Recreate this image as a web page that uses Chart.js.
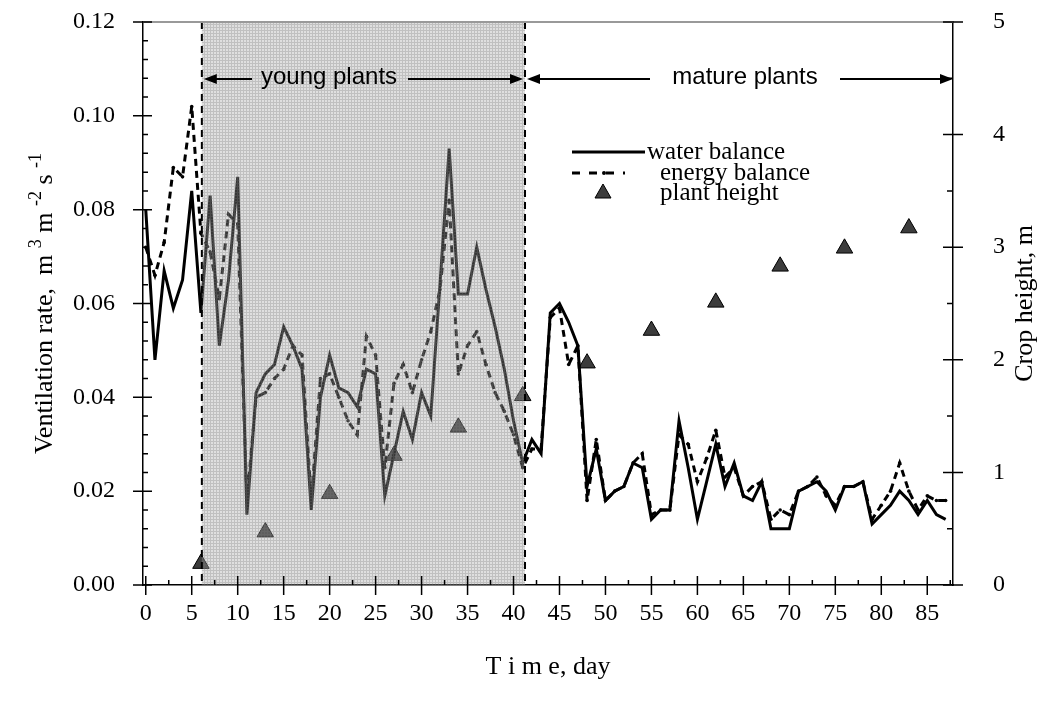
<!DOCTYPE html>
<html>
<head>
<meta charset="utf-8">
<script src="https://cdn.jsdelivr.net/npm/chart.js@4.4.1/dist/chart.umd.min.js"></script>
<style>
  html, body { margin: 0; padding: 0; background: #fff; }
  #wrap { width: 1046px; height: 706px; }
</style>
</head>
<body>
<div id="wrap"><canvas id="chart" width="1046" height="706"></canvas></div>
<script>
// ------------------------- Data -------------------------
// ventilation rate, m3 m-2 s-1, one value per day (day 0 .. 87)
const waterBalance = [
  0.080, 0.048, 0.067, 0.059, 0.065, 0.084, 0.058, 0.083, 0.051, 0.065,
  0.087, 0.015, 0.041, 0.045, 0.047, 0.055, 0.051, 0.046, 0.016, 0.040,
  0.049, 0.042, 0.041, 0.038, 0.046, 0.045, 0.019, 0.028, 0.037, 0.031,
  0.041, 0.036, 0.064, 0.093, 0.062, 0.062, 0.072, 0.063, 0.055, 0.046,
  0.035, 0.026, 0.031, 0.028, 0.058, 0.060, 0.056, 0.051, 0.021, 0.029,
  0.018, 0.020, 0.021, 0.026, 0.025, 0.014, 0.016, 0.016, 0.035, 0.025,
  0.014, 0.022, 0.030, 0.021, 0.026, 0.019, 0.018, 0.022, 0.012, 0.012,
  0.012, 0.020, 0.021, 0.022, 0.020, 0.016, 0.021, 0.021, 0.022, 0.013,
  0.015, 0.017, 0.020, 0.018, 0.015, 0.018, 0.015, 0.014
];
const energyBalance = [
  0.072, 0.066, 0.073, 0.089, 0.087, 0.102, 0.075, 0.071, 0.061, 0.079,
  0.077, 0.018, 0.040, 0.041, 0.044, 0.046, 0.051, 0.049, 0.018, 0.044,
  0.045, 0.040, 0.035, 0.032, 0.053, 0.049, 0.025, 0.043, 0.047, 0.041,
  0.048, 0.054, 0.063, 0.082, 0.045, 0.051, 0.054, 0.047, 0.041, 0.037,
  0.032, 0.025, 0.029, 0.029, 0.057, 0.059, 0.047, 0.051, 0.018, 0.031,
  0.018, 0.020, 0.021, 0.026, 0.028, 0.015, 0.016, 0.016, 0.032, 0.030,
  0.022, 0.027, 0.033, 0.023, 0.025, 0.019, 0.021, 0.022, 0.014, 0.016,
  0.015, 0.020, 0.021, 0.023, 0.019, 0.017, 0.021, 0.021, 0.022, 0.014,
  0.017, 0.020, 0.026, 0.020, 0.016, 0.019, 0.018, 0.018
];
const days = waterBalance.map((_, i) => i);

// crop height, m
const heightDays = [6, 13, 20, 27, 34, 41, 48, 55, 62, 69, 76, 83];
const plantHeight = [0.19, 0.47, 0.81, 1.15, 1.40, 1.68, 1.97, 2.26, 2.51, 2.83, 2.99, 3.17];

// axis ticks
const dayTicks = [0, 5, 10, 15, 20, 25, 30, 35, 40, 45, 50, 55, 60, 65, 70, 75, 80, 85];
const rateTicks = [0, 0.02, 0.04, 0.06, 0.08, 0.10, 0.12];
const heightTicks = [0, 1, 2, 3, 4, 5];

// growth stages (days)
const youngStart = 6.1;
const matureStart = 41.25;

const serif = '"Liberation Serif", "Times New Roman", serif';
const sans = '"Liberation Sans", Arial, sans-serif';

// ------------------------- Helpers -------------------------
function makeHatch(ctx) {
  const tile = document.createElement('canvas');
  tile.width = 3; tile.height = 3;
  const t = tile.getContext('2d');
  t.fillStyle = 'rgba(160,160,160,0.34)';
  t.fillRect(0, 0, 3, 3);
  t.fillStyle = 'rgba(120,120,120,0.30)';
  t.fillRect(0, 0, 3, 1);
  t.fillRect(0, 1, 1, 2);
  return ctx.createPattern(tile, 'repeat');
}

function arrow(ctx, x0, y, x1) {
  const dir = Math.sign(x1 - x0);
  ctx.beginPath();
  ctx.moveTo(x0, y);
  ctx.lineTo(x1 - dir * 10, y);
  ctx.stroke();
  ctx.beginPath();
  ctx.moveTo(x1, y);
  ctx.lineTo(x1 - dir * 13, y - 5);
  ctx.lineTo(x1 - dir * 13, y + 5);
  ctx.closePath();
  ctx.fill();
}

// text with superscripts, pieces = [[text, isSup], ...], centred on (0,0)
function supText(ctx, pieces, size) {
  const supSize = Math.round(size * 0.68);
  let total = 0;
  pieces.forEach(([s, sup]) => {
    ctx.font = `${sup ? supSize : size}px ${serif}`;
    total += ctx.measureText(s).width;
  });
  let x = -total / 2;
  ctx.textAlign = 'left';
  ctx.textBaseline = 'alphabetic';
  pieces.forEach(([s, sup]) => {
    ctx.font = `${sup ? supSize : size}px ${serif}`;
    ctx.fillText(s, x, sup ? size * 0.35 - size * 0.42 : size * 0.35);
    x += ctx.measureText(s).width;
  });
}

function noPad(s) {
  s.paddingTop = 0; s.paddingBottom = 0; s.paddingLeft = 0; s.paddingRight = 0;
}

// ------------------------- Decorations plugin -------------------------
const decorations = {
  id: 'decorations',
  afterDatasetsDraw(chart) {
    const { ctx, chartArea: a, scales: { x, y, y2 } } = chart;
    const xs = x.getPixelForValue(youngStart);
    const xe = x.getPixelForValue(matureStart);

    ctx.save();
    // shaded young-plant period (drawn over the lines, like the original)
    ctx.fillStyle = makeHatch(ctx);
    ctx.fillRect(xs, a.top, xe - xs, a.bottom - a.top);

    // stage boundaries
    ctx.strokeStyle = '#000';
    ctx.lineWidth = 2;
    ctx.setLineDash([7, 5]);
    [xs, xe].forEach(px => {
      ctx.beginPath();
      ctx.moveTo(px, a.top);
      ctx.lineTo(px, a.bottom);
      ctx.stroke();
    });
    ctx.setLineDash([]);

    // top frame line
    ctx.strokeStyle = '#999';
    ctx.lineWidth = 2;
    ctx.beginPath();
    ctx.moveTo(a.left, a.top);
    ctx.lineTo(a.right, a.top);
    ctx.stroke();

    // tick marks
    ctx.strokeStyle = '#000';
    ctx.lineWidth = 1.5;
    ctx.beginPath();
    for (let v = 0; v <= x.max; v += 2.5) {
      const px = x.getPixelForValue(v);
      const major = v % 5 === 0;
      ctx.moveTo(px, a.bottom - (major ? 9 : 5));
      ctx.lineTo(px, a.bottom + (major ? 10 : 0));
    }
    for (let i = 0; i <= 30; i++) {
      const py = y.getPixelForValue(i * 0.004);
      const major = i % 5 === 0;
      ctx.moveTo(a.left - (major ? 10 : 0), py);
      ctx.lineTo(a.left + (major ? 9 : 5), py);
    }
    for (let i = 0; i <= 10; i++) {
      const py = y2.getPixelForValue(i * 0.5);
      const major = i % 2 === 0;
      ctx.moveTo(a.right - (major ? 10 : 6), py);
      ctx.lineTo(a.right + (major ? 10 : 0), py);
    }
    ctx.stroke();

    // growth stage arrows
    const ay = 79;
    ctx.fillStyle = '#000';
    ctx.strokeStyle = '#000';
    ctx.lineWidth = 2;
    ctx.font = `24px ${sans}`;
    ctx.textAlign = 'center';
    ctx.textBaseline = 'middle';
    ctx.fillText('young plants', 329, ay - 2);
    arrow(ctx, 252, ay, xs + 2);
    arrow(ctx, 408, ay, xe - 2);
    ctx.fillText('mature plants', 745, ay - 2);
    arrow(ctx, 650, ay, xe + 2);
    arrow(ctx, 840, ay, a.right);

    // legend
    ctx.font = `25px ${serif}`;
    ctx.textAlign = 'left';
    ctx.textBaseline = 'middle';
    ctx.lineWidth = 3;
    ctx.beginPath();
    ctx.moveTo(572, 152); ctx.lineTo(645, 152);
    ctx.stroke();
    ctx.fillText('water balance', 647, 152);
    ctx.setLineDash([8, 9]);
    ctx.beginPath();
    ctx.moveTo(572, 173); ctx.lineTo(625, 173);
    ctx.stroke();
    ctx.setLineDash([]);
    ctx.beginPath();
    ctx.arc(604, 173, 2, 0, Math.PI * 2);
    ctx.fill();
    ctx.fillText('energy balance', 660, 173);
    ctx.fillStyle = '#3c3c3c';
    ctx.lineWidth = 1;
    ctx.beginPath();
    ctx.moveTo(603, 184); ctx.lineTo(611, 198); ctx.lineTo(595, 198);
    ctx.closePath();
    ctx.fill(); ctx.stroke();
    ctx.fillStyle = '#000';
    ctx.fillText('plant height', 660, 193);

    // axis titles
    ctx.save();
    ctx.translate(43, (a.top + a.bottom) / 2);
    ctx.rotate(-Math.PI / 2);
    supText(ctx, [
      ['Ventilation rate,  m ', false], ['3', true], [' m ', false],
      ['-2', true], [' s ', false], ['-1', true]
    ], 26);
    ctx.restore();

    ctx.save();
    ctx.translate(1025, (a.top + a.bottom) / 2);
    ctx.rotate(-Math.PI / 2);
    ctx.font = `26px ${serif}`;
    ctx.textAlign = 'center';
    ctx.textBaseline = 'middle';
    ctx.fillText('Crop height, m', 0, 0);
    ctx.restore();

    ctx.font = `26px ${serif}`;
    ctx.textAlign = 'center';
    ctx.textBaseline = 'middle';
    ctx.fillText('T i m e, day', (a.left + a.right) / 2, 667);
    ctx.restore();
  }
};

// ------------------------- Chart -------------------------
const tickFont = { family: serif, size: 24 };

new Chart(document.getElementById('chart').getContext('2d'), {
  type: 'line',
  data: {
    datasets: [
      {
        label: 'water balance',
        data: days.map((d, i) => ({ x: d, y: waterBalance[i] })),
        borderColor: '#000',
        borderWidth: 3,
        pointRadius: 0,
        tension: 0,
        yAxisID: 'y'
      },
      {
        label: 'energy balance',
        data: days.map((d, i) => ({ x: d, y: energyBalance[i] })),
        borderColor: '#000',
        borderWidth: 3,
        borderDash: [7, 5],
        pointRadius: 1.8,
        pointBorderWidth: 0,
        pointBackgroundColor: '#000',
        tension: 0,
        yAxisID: 'y'
      },
      {
        label: 'plant height',
        data: heightDays.map((d, i) => ({ x: d, y: plantHeight[i] })),
        showLine: false,
        pointStyle: 'triangle',
        pointRadius: 9.5,
        pointBackgroundColor: '#3c3c3c',
        pointBorderColor: '#000',
        pointBorderWidth: 1,
        yAxisID: 'y2'
      }
    ]
  },
  options: {
    responsive: false,
    devicePixelRatio: 1,
    animation: false,
    layout: { autoPadding: false, padding: { top: 22, left: 0, right: 0, bottom: 0 } },
    plugins: { legend: { display: false }, tooltip: { enabled: false } },
    scales: {
      x: {
        type: 'linear',
        min: -0.3,
        max: 87.8,
        afterBuildTicks: s => { s.ticks = dayTicks.map(v => ({ value: v })); },
        afterFit: s => { s.height = 121; noPad(s); },
        ticks: { font: tickFont, color: '#000', padding: 6, maxRotation: 0, autoSkip: false },
        grid: { display: false },
        border: { display: true, color: '#000', width: 1.5 }
      },
      y: {
        position: 'left',
        min: 0,
        max: 0.12,
        afterBuildTicks: s => { s.ticks = rateTicks.map(v => ({ value: v })); },
        afterFit: s => { s.width = 143; noPad(s); },
        ticks: { font: tickFont, color: '#000', padding: 20, callback: v => v.toFixed(2) },
        grid: { display: false },
        border: { display: true, color: '#000', width: 1.5 }
      },
      y2: {
        position: 'right',
        min: 0,
        max: 5,
        afterBuildTicks: s => { s.ticks = heightTicks.map(v => ({ value: v })); },
        afterFit: s => { s.width = 93; noPad(s); },
        ticks: { font: tickFont, color: '#000', padding: 32, crossAlign: 'near' },
        grid: { display: false },
        border: { display: true, color: '#000', width: 1.5 }
      }
    }
  },
  plugins: [decorations]
});
</script>
</body>
</html>
